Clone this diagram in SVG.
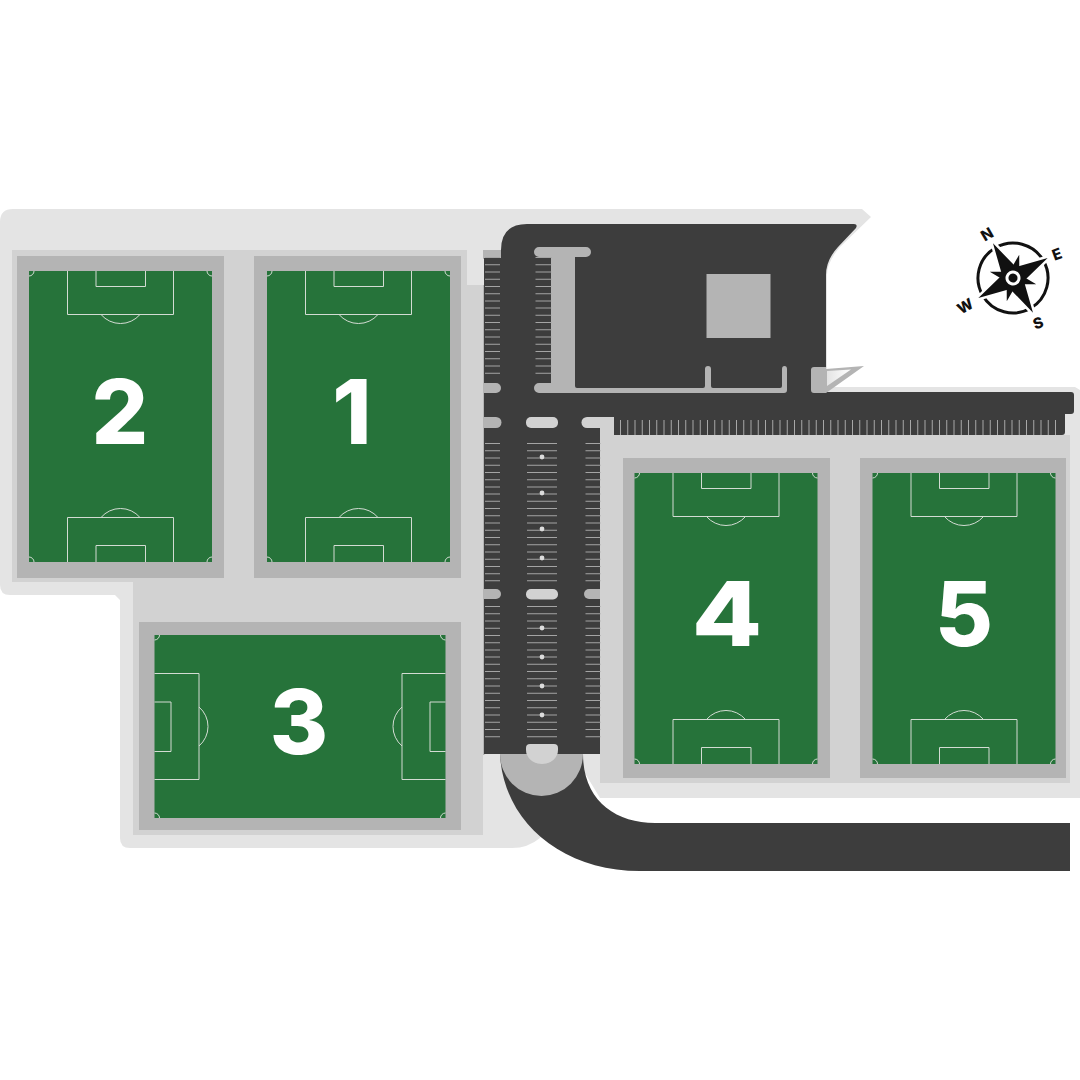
<svg xmlns="http://www.w3.org/2000/svg" width="1080" height="1080" viewBox="0 0 1080 1080">
<style>
.curb{fill:#b4b4b4}
.pad{fill:#d2d2d2}
.asphalt{fill:#3d3d3d}
.stall{fill:none;stroke:#a4a4a4;stroke-dasharray:1 6.23}
.top{fill:none;stroke:#a8a8a8;stroke-width:15;stroke-dasharray:1 6.25}
.mark{fill:none;stroke:#d3dcd3;stroke-width:1}
.turf{fill:#26733a}
.num{font-family:"Inter","Liberation Sans",sans-serif;font-weight:800;font-size:89px;fill:#fff;text-anchor:middle}
.cp{font-family:"Inter","Liberation Sans",sans-serif;font-weight:800;font-size:15px;fill:#111;text-anchor:middle}
</style>
<defs>
<linearGradient id="tri" x1="0" x2="1" y1="0" y2="0"><stop offset="0" stop-color="#e4e4e4"/><stop offset="1" stop-color="#fff"/></linearGradient>
<g id="pitch">
<rect class="turf" width="183" height="291"/>
<path class="mark" d="M38.500 0V43.500H144.500V0M67 0V15.500H116.500V0M72 43.500A25.600 25.600 0 0 0 111 43.500"/>
<path class="mark" d="M38.500 291V246.500H144.500V291M67 291V274.500H116.500V291M72 246.500A25.600 25.600 0 0 1 111 246.500"/>
<path class="mark" d="M0 5A5 5 0 0 0 5 0M178 0A5 5 0 0 0 183 5M0 286A5 5 0 0 1 5 291M178 291A5 5 0 0 1 183 286"/>
</g>
</defs>
<g id="site">
<path fill="#e4e4e4" d="M0 222Q0 209 13 209L862 209L871 217L840 247Q827 262 827 275L827 387L1075 387L1080 390L1080 798L600 798L583 770L540 838Q528 848 512 848L130 848Q120 848 120 838L120 600L115 595L10 595Q0 595 0 585Z"/>
<path class="pad" d="M12 250L467 250L467 285L483 285L483 835L133 835L133 582L12 582Z"/>
<path class="pad" d="M600 428L614 428L614 435L1070 435L1070 783L600 783Z"/>
<rect class="curb" x="483" y="250" width="19" height="9"/>
<rect x="483" y="285" width="1.500" height="470" fill="#b4b4b4"/>
</g>
<g id="parking">
<path class="asphalt" d="M484 258L501 258L501 250Q501 224 527 224L854 224Q858 224 856 228L838 247Q826 260 826 275L826 392L1071 392Q1074 392 1074 395L1074 411Q1074 414 1071 414L1065 414L1065 432Q1065 435 1062 435L614 435L614 428L600 428L600 754L484 754Z"/>
<path class="asphalt" d="M500 754C503 820 560 871 640 871L1070 871L1070 823L655 823C615 823 583 800 583 754Z"/>
<path class="curb" d="M500 754A41.500 42 0 0 0 583 754Z"/>
<path class="pad" d="M526 748Q526 744 530 744L554 744Q558 744 558 748L558 750A16 14 0 0 1 526 750Z"/>
<path class="curb" d="M539 247L586 247A5 5 0 0 1 586 257L575 257L575 386Q575 388 577 388L703 388Q705 388 705 386L705 369Q705 366 708 366Q711 366 711 369L711 386Q711 388 713 388L780 388Q782 388 782 386L782 369Q782 366 784.500 366Q787 366 787 369L787 390Q787 393 784 393L539 393A5 5 0 0 1 539 383L551 383L551 257L539 257A5 5 0 0 1 539 247Z"/>
<rect class="curb" x="706.500" y="274" width="64" height="64"/>
<path class="curb" d="M826 369L826 367L814 367Q811 367 811 370L811 390Q811 393 814 393L826 393L864 366Z"/>
<path fill="url(#tri)" d="M827 371L851 369.500L827 386Z"/>
<path class="curb" d="M484 383L496 383A5 5 0 0 1 496 393L484 393Z"/>
<path class="curb" d="M484 417L496 417A5.500 5.500 0 0 1 496 428L484 428Z"/>
<path class="curb" d="M484 589L496 589A5 5 0 0 1 496 599L484 599Z"/>
<rect class="pad" x="526" y="417" width="32" height="11" rx="5"/>
<rect class="pad" x="526" y="589" width="32" height="10.500" rx="5"/>
<path class="pad" d="M614 417L587 417A5.500 5.500 0 0 0 587 428L614 428Z"/>
<path class="curb" d="M600 589L589 589A5 5 0 0 0 589 599L600 599Z"/>
<g class="stall" stroke-width="15">
<path d="M492.500 257V374M492.500 443V583M492.500 606V738"/>
<path d="M593 443V583M593 606V738"/>
</g>
<path class="stall" stroke-width="16" d="M543.500 257V374"/>
<path class="stall" stroke-width="30" d="M542 443V583M542 606V738"/>
<path class="top" d="M620 427.500H1060"/>
<g fill="#dcdcdc">
<circle cx="542" cy="457" r="2.400"/><circle cx="542" cy="493" r="2.400"/><circle cx="542" cy="529" r="2.400"/><circle cx="542" cy="558" r="2.400"/>
<circle cx="542" cy="628" r="2.400"/><circle cx="542" cy="657" r="2.400"/><circle cx="542" cy="686" r="2.400"/><circle cx="542" cy="715" r="2.400"/>
</g>
</g>
<g id="field-2">
<rect class="curb" x="17" y="256" width="207" height="322"/>
<use href="#pitch" transform="translate(29 271)"/>
<text class="num" x="120" y="444">2</text>
</g>
<g id="field-1">
<rect class="curb" x="254" y="256" width="207" height="322"/>
<use href="#pitch" transform="translate(267 271)"/>
<text class="num" x="352" y="444">1</text>
</g>
<g id="field-3">
<rect class="curb" x="139" y="622" width="322" height="208"/>
<use href="#pitch" transform="translate(445.500 635) rotate(90)"/>
<text class="num" x="299" y="754">3</text>
</g>
<g id="field-4">
<rect class="curb" x="623" y="458" width="207" height="320"/>
<use href="#pitch" transform="translate(634.500 473)"/>
<text class="num" transform="translate(727 646) scale(1.15 1)">4</text>
</g>
<g id="field-5">
<rect class="curb" x="860" y="458" width="206" height="320"/>
<use href="#pitch" transform="translate(872.500 473)"/>
<text class="num" x="964" y="646">5</text>
</g>
<g id="compass">
<g transform="translate(1013 278) rotate(-30)">
<circle r="35" fill="none" stroke="#111" stroke-width="3"/>
<path fill="#111" stroke="#fff" stroke-width="5" paint-order="stroke" d="M0 -40L8 -8L40 0L8 8L0 40L-8 8L-40 0L-8 -8Z"/>
<path fill="#111" d="M17 -17L3 -9L9 -3ZM17 17L3 9L9 3ZM-17 17L-3 9L-9 3ZM-17 -17L-3 -9L-9 -3Z"/>
<circle r="10" fill="#111"/>
<circle r="7.500" fill="#fff"/>
<circle r="4.500" fill="#111"/>
</g>
<text class="cp" transform="translate(987 234) rotate(-30)" y="5.500">N</text>
<text class="cp" transform="translate(1057 254) rotate(-20)" y="5.500">E</text>
<text class="cp" transform="translate(1038 323) rotate(-20)" y="5.500">S</text>
<text class="cp" transform="translate(965 306) rotate(-30)" y="5.500">W</text>
</g>
</svg>
